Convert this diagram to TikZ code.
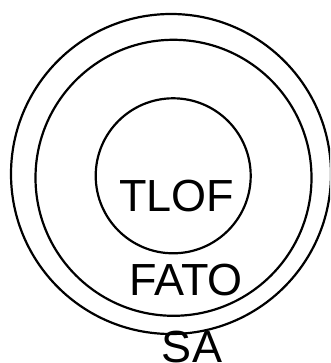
\documentclass[tikz,border=0pt]{standalone}
\usepackage{fontspec}
\setmainfont{Liberation Sans}
\begin{document}
\begin{tikzpicture}[x=1pt,y=-1pt,
  ring/.style={draw=black,line width=2.2pt,circle,inner sep=0pt},
  lbl/.style={anchor=base,inner sep=0pt,font=\fontsize{45}{45}\selectfont}]
\useasboundingbox (0,0) rectangle (330,363);
\clip (0,0) rectangle (330,363);
\node[ring,minimum size=320pt] (sa) at (171,174) {};
\node[ring,minimum size=276pt] (fato) at (173.5,177.8) {};
\node[ring,minimum size=155pt] (tlof) at (173.2,175.8) {};
\node[lbl] (tloft) at (176.5,211) {TLOF};
\node[lbl] (fatot) at (186,295) {FATO};
\node[lbl] (sat) at (192,362) {SA};
\end{tikzpicture}
\end{document}
